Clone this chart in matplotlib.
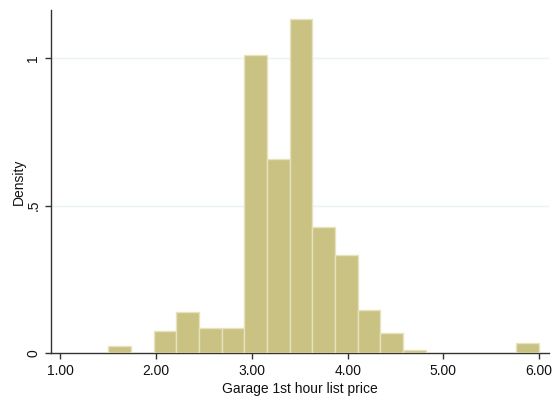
import matplotlib
matplotlib.use('Agg')
import matplotlib.pyplot as plt
import numpy as np

# histogram of garage 1st hour list price (19 bins from 1.5 to 6.0)
bin_start = 1.5
bin_end = 6.0
n_bins = 19
density = [0.024, 0.0, 0.077, 0.139, 0.086, 0.086, 1.011, 0.659, 1.130,
           0.427, 0.333, 0.147, 0.068, 0.0115, 0.0, 0.0, 0.0, 0.0, 0.035]

x_ticks = [1, 2, 3, 4, 5, 6]
x_tick_labels = ['1.00', '2.00', '3.00', '4.00', '5.00', '6.00']
y_ticks = [0, 0.5, 1]
y_tick_labels = ['0', '.5', '1']

plt.rcParams['font.family'] = ['Liberation Sans', 'DejaVu Sans']

fig = plt.figure(figsize=(5.54, 4.01), dpi=100)
ax = fig.add_axes([0.0915, 0.119, 0.899, 0.856])

edges = np.linspace(bin_start, bin_end, n_bins + 1)
ax.bar(edges[:-1], density, width=np.diff(edges), align='edge',
       color='#c9c283', edgecolor='#e6e2bd', linewidth=1.0, zorder=3)

ax.set_xlim(0.898, 6.10)
ax.set_ylim(0, 1.162)

ax.set_yticks(y_ticks)
ax.set_yticklabels(y_tick_labels, rotation=90, va='center')
ax.set_xticks(x_ticks)
ax.set_xticklabels(x_tick_labels)

for y in y_ticks[1:]:
    ax.axhline(y, color='#eaf2f4', linewidth=1.0, zorder=1)

for side in ['top', 'right']:
    ax.spines[side].set_visible(False)
for side in ['left', 'bottom']:
    ax.spines[side].set_color('#333333')
    ax.spines[side].set_linewidth(1.0)

ax.tick_params(axis='both', direction='out', length=4, width=1.0,
               color='#333333', labelsize=10, labelcolor='#111111')

ax.set_xlabel('Garage 1st hour list price', fontsize=10, color='#111111', labelpad=3)
ax.set_ylabel('Density', fontsize=10, color='#111111', labelpad=0)

fig.savefig('out.png', dpi=100, facecolor='white')
